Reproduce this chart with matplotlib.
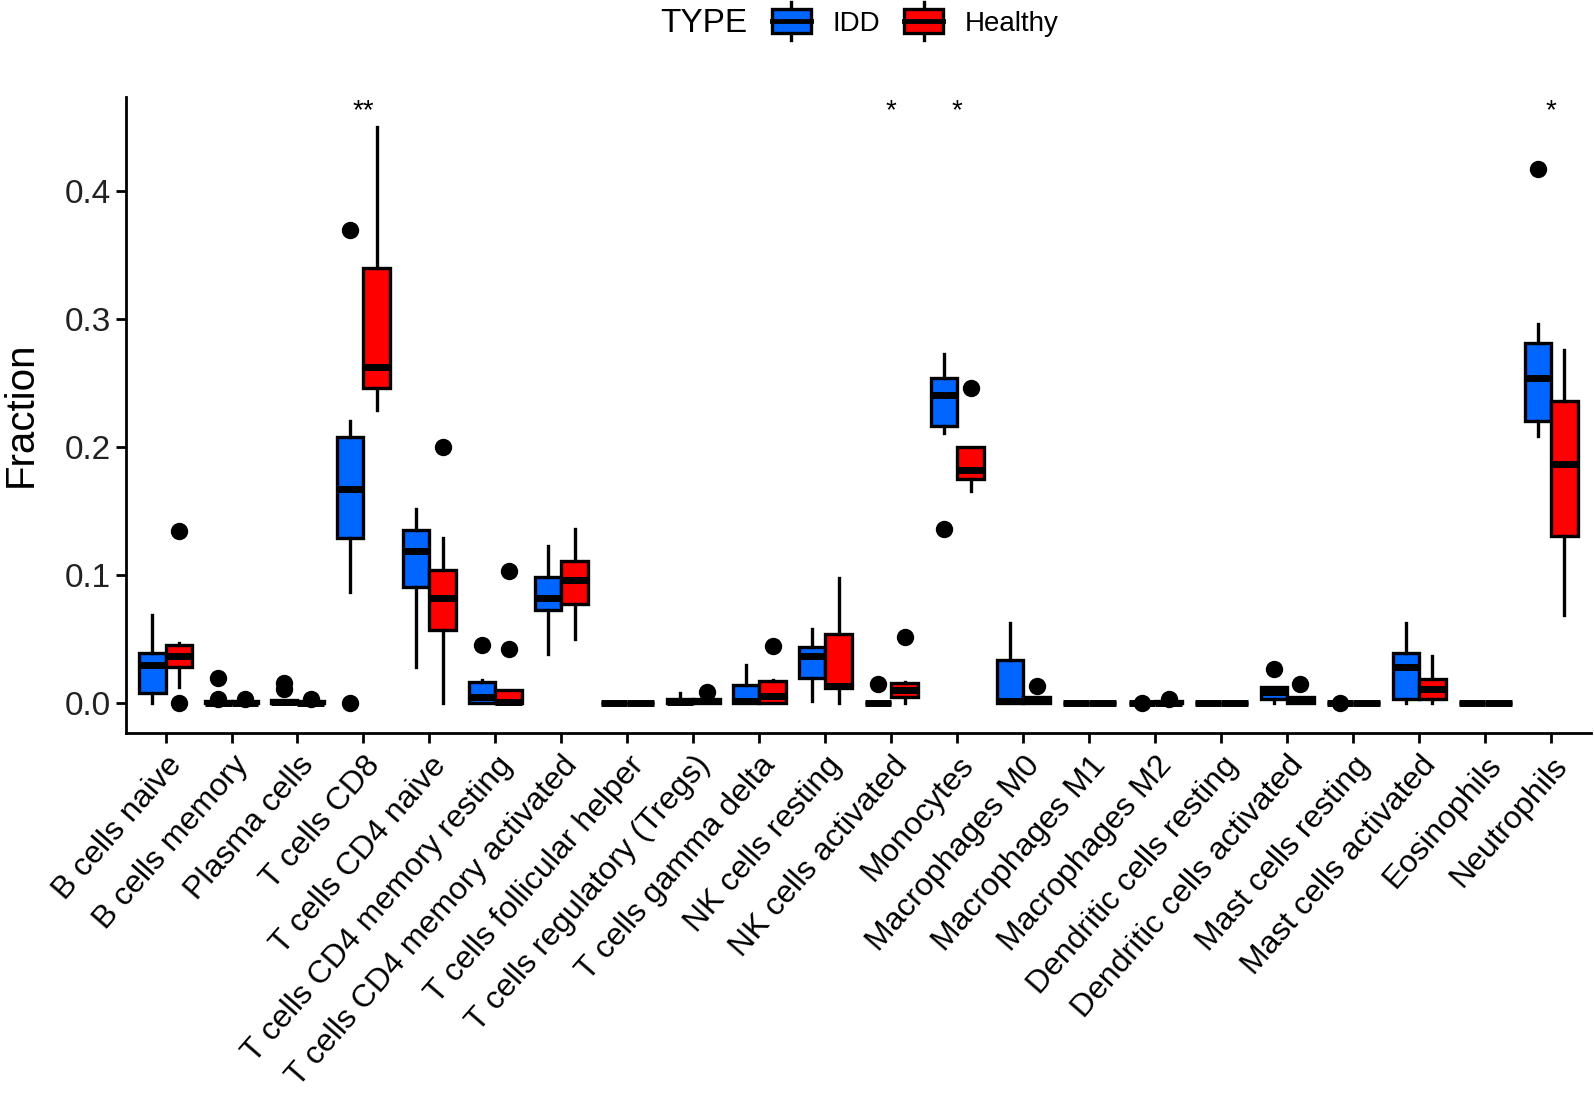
import matplotlib
matplotlib.use("Agg")
import matplotlib.pyplot as plt
from matplotlib.legend_handler import HandlerBase
from matplotlib.patches import Rectangle
from matplotlib.lines import Line2D

plt.rcParams['font.family'] = ['Liberation Sans', 'DejaVu Sans']

categories = ["B cells naive", "B cells memory", "Plasma cells", "T cells CD8",
              "T cells CD4 naive", "T cells CD4 memory resting",
              "T cells CD4 memory activated", "T cells follicular helper",
              "T cells regulatory (Tregs)", "T cells gamma delta",
              "NK cells resting", "NK cells activated", "Monocytes",
              "Macrophages M0", "Macrophages M1", "Macrophages M2",
              "Dendritic cells resting", "Dendritic cells activated",
              "Mast cells resting", "Mast cells activated", "Eosinophils",
              "Neutrophils"]

# IDD box statistics
idd_q1 = [0.0074, 0.0, 0.0, 0.1284, 0.0906, 0.0, 0.0726, 0.0, 0.0, 0.0, 0.0194,
          0.0, 0.216, 0.0, 0.0, 0.0, 0.0, 0.003, 0.0, 0.003, 0.0, 0.2203]
idd_med = [0.029, 0.0, 0.0005, 0.167, 0.1187, 0.004, 0.0816, 0.0, 0.0005, 0.001, 0.0365,
           0.0, 0.2406, 0.001, 0.0, 0.0, 0.0, 0.008, 0.0, 0.0277, 0.0, 0.2535]
idd_q3 = [0.0387, 0.001, 0.002, 0.2074, 0.1348, 0.016, 0.098, 0.0, 0.003, 0.0139, 0.0435,
          0.0, 0.2535, 0.0332, 0.0, 0.0, 0.0, 0.012, 0.0, 0.0387, 0.0, 0.281]
idd_lo = [0.0, 0.0, 0.0, 0.0865, 0.0277, 0.0, 0.038, 0.0, 0.0, 0.0, 0.001,
          0.0, 0.2106, 0.0, 0.0, 0.0, 0.0, 0.0, 0.0, 0.0, 0.0, 0.2084]
idd_hi = [0.0687, 0.001, 0.002, 0.220, 0.151, 0.018, 0.122, 0.0, 0.0074, 0.029, 0.0574,
          0.0, 0.2726, 0.0623, 0.0, 0.0, 0.0, 0.012, 0.0, 0.0623, 0.0, 0.296]
idd_out = [[], [0.0194, 0.0026], [0.0155, 0.0106], [0.369, 0.0], [], [0.045], [], [], [],
           [], [], [0.0148], [0.1358], [], [], [0.0], [], [0.026], [0.0], [], [], [0.417]]

# Healthy box statistics
hea_q1 = [0.0274, 0.0, 0.0, 0.2455, 0.0565, 0.0, 0.0768, 0.0, 0.0, 0.0, 0.0113,
          0.004, 0.175, 0.0, 0.0, 0.0, 0.0, 0.0, 0.0, 0.003, 0.0, 0.130]
hea_med = [0.0365, 0.0, 0.0, 0.262, 0.0816, 0.0005, 0.096, 0.0, 0.001, 0.005, 0.013,
           0.010, 0.1816, 0.002, 0.0, 0.0, 0.0, 0.001, 0.0, 0.0106, 0.0, 0.1865]
hea_q3 = [0.045, 0.001, 0.001, 0.340, 0.1035, 0.0097, 0.111, 0.0, 0.003, 0.017, 0.0535,
          0.0155, 0.1994, 0.004, 0.0, 0.001, 0.0, 0.004, 0.0, 0.0187, 0.0, 0.2358]
hea_lo = [0.0123, 0.0, 0.0, 0.2284, 0.0, 0.0, 0.050, 0.0, 0.0, 0.0, 0.0,
          0.0, 0.1655, 0.0, 0.0, 0.0, 0.0, 0.0, 0.0, 0.0, 0.0, 0.0687]
hea_hi = [0.0468, 0.001, 0.001, 0.450, 0.129, 0.0097, 0.136, 0.0, 0.003, 0.018, 0.0977,
          0.016, 0.1994, 0.004, 0.0, 0.001, 0.0, 0.004, 0.0, 0.0365, 0.0, 0.2758]
hea_out = [[0.134, 0.0], [0.0026], [0.0026], [], [0.200], [0.103, 0.042], [], [], [0.008],
           [0.0445], [], [0.0516], [0.246], [0.013], [], [0.003], [], [0.0145], [], [], [], []]

sig_labels = ["", "", "", "**", "", "", "", "", "", "", "", "*", "*", "", "", "", "",
              "", "", "", "", "*"]
sig_y = 0.462

groups = ["IDD", "Healthy"]
colors = ["#0066FF", "#FF0000"]


def make_stats(q1, med, q3, lo, hi, out):
    return [dict(q1=a, med=b, q3=c, whislo=d, whishi=e, fliers=f)
            for a, b, c, d, e, f in zip(q1, med, q3, lo, hi, out)]


fig = plt.figure(figsize=(15.94, 11.0), dpi=100)
ax = fig.add_axes([0.079, 0.334, 0.919, 0.578])

n = len(categories)
xs = list(range(1, n + 1))
all_stats = [make_stats(idd_q1, idd_med, idd_q3, idd_lo, idd_hi, idd_out),
             make_stats(hea_q1, hea_med, hea_q3, hea_lo, hea_hi, hea_out)]
offsets = [-0.2, 0.2]

for stats, off, col in zip(all_stats, offsets, colors):
    ax.bxp(stats, positions=[x + off for x in xs], widths=0.4, patch_artist=True,
           showcaps=False,
           boxprops=dict(facecolor=col, edgecolor='black', linewidth=2.4),
           medianprops=dict(color='black', linewidth=5.0, solid_capstyle='butt'),
           whiskerprops=dict(color='black', linewidth=2.4),
           flierprops=dict(marker='o', markerfacecolor='black', markeredgecolor='black',
                           markersize=11.5),
           manage_ticks=False)

for x, lab in zip(xs, sig_labels):
    if lab:
        ax.text(x, sig_y, lab, ha='center', va='center', fontsize=20, color='black')

ax.set_xlim(0.4, n + 0.6)
ax.set_ylim(-0.0235, 0.4735)
ax.set_xticks(xs)
ax.set_xticklabels(categories, rotation=49, ha='right', va='top',
                   rotation_mode='anchor', fontsize=23, color='black')
ax.set_yticks([0.0, 0.1, 0.2, 0.3, 0.4])
ax.set_yticklabels(["0.0", "0.1", "0.2", "0.3", "0.4"], fontsize=24, color='#222222')
ax.tick_params(axis='both', length=7, width=2, color='black', pad=4)
ax.tick_params(axis='x', pad=6)
for s in ['top', 'right']:
    ax.spines[s].set_visible(False)
for s in ['left', 'bottom']:
    ax.spines[s].set_linewidth(2)
ax.set_ylabel("Fraction", fontsize=29, labelpad=18)


class BoxHandler(HandlerBase):
    def create_artists(self, legend, orig_handle, xdescent, ydescent, width, height,
                       fontsize, trans):
        col = orig_handle.get_facecolor()
        bw = width
        bh = height
        y0 = -ydescent
        x0 = -xdescent
        wl1 = Line2D([x0 + bw / 2, x0 + bw / 2], [y0 - height * 0.3, y0],
                     color='black', lw=2.4, transform=trans)
        wl2 = Line2D([x0 + bw / 2, x0 + bw / 2], [y0 + bh, y0 + bh + height * 0.3],
                     color='black', lw=2.4, transform=trans)
        rect = Rectangle((x0, y0), bw, bh, facecolor=col, edgecolor='black', lw=2.4,
                         transform=trans)
        med = Line2D([x0, x0 + bw], [y0 + bh / 2, y0 + bh / 2], color='black', lw=3.5,
                     transform=trans)
        return [wl1, wl2, rect, med]


handles = [Rectangle((0, 0), 1, 1, facecolor=c) for c in colors]
fig.text(0.469, 0.979, "TYPE", ha='right', va='center', fontsize=24)
leg = fig.legend(handles, groups, loc='center left', bbox_to_anchor=(0.4843, 0.979),
                 ncol=2, frameon=False, fontsize=20,
                 handler_map={Rectangle: BoxHandler()},
                 handlelength=1.4, handleheight=0.95, handletextpad=0.79,
                 columnspacing=0.86, borderpad=0, borderaxespad=0)

fig.savefig("out.png", dpi=100, facecolor='white')
